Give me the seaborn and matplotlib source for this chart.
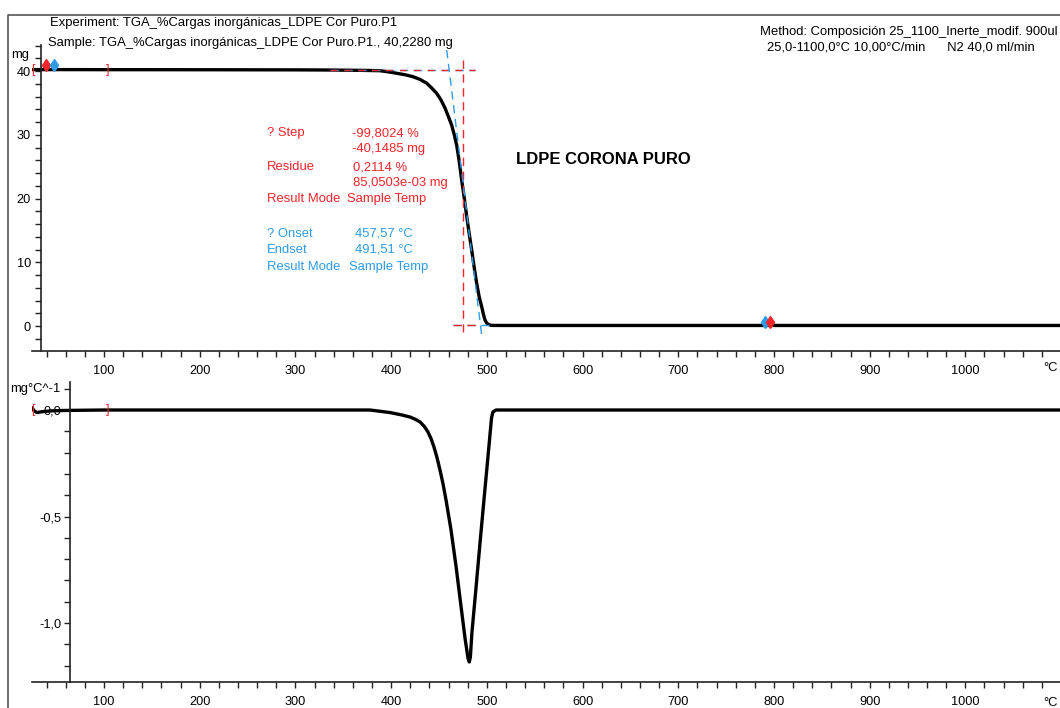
"""
TGA / DTG do LDPE corona puro (recriação do relatório do STARe)
"""

import matplotlib
matplotlib.use("Agg")
import matplotlib.pyplot as plt
import matplotlib.ticker as mticker
from matplotlib.lines import Line2D
import seaborn as sns

# Curva TGA (massa, mg)
tga_temp = [25, 60, 100, 200, 300, 330, 370, 388, 398, 406, 415, 423, 430, 437,
            442, 447.6, 452, 456.3, 460, 463.3, 466, 468.6, 471.3, 473.8, 476.5,
            479.0, 481.6, 484.2, 486.8, 489.4, 492, 494.7, 496.5, 498.1, 500,
            501.6, 504, 507, 520, 600, 700, 800, 900, 1000, 1099]
tga_mg = [40.22, 40.22, 40.21, 40.2, 40.18, 40.16, 40.1, 40.05, 39.85, 39.64,
          39.4, 39.1, 38.7, 38.1, 37.4, 36.5, 35.5, 34.2, 32.8, 31.5, 30.0, 28.3,
          25.7, 22.8, 20.0, 17.2, 14.5, 11.9, 9.2, 6.7, 4.6, 3.0, 1.8, 0.95, 0.45,
          0.25, 0.12, 0.09, 0.085, 0.085, 0.085, 0.085, 0.085, 0.085, 0.085]

# Curva DTG (mg/°C)
dtg_temp = [25, 27, 30, 35, 45, 60, 100, 200, 300, 377.9, 398.9, 410, 419.8,
            425, 430.2, 434.5, 438.5, 441.8, 444.8, 448, 451.1, 454.3, 457.4,
            462.6, 467.8, 473.0, 477.2, 480.3, 481.7, 482.8, 484.5, 488.7, 492.9,
            497.1, 501.2, 503.3, 504.9, 506.4, 509.6, 550, 700, 900, 1099]
dtg_val = [0.01, -0.004, -0.012, -0.008, -0.004, -0.002, 0.0, 0.0, 0.0, 0.0,
           -0.012, -0.022, -0.033, -0.043, -0.056, -0.076, -0.103, -0.135,
           -0.174, -0.224, -0.282, -0.348, -0.423, -0.563, -0.732, -0.92, -1.07,
           -1.164, -1.183, -1.16, -1.042, -0.836, -0.624, -0.418, -0.22, -0.117,
           -0.038, -0.009, 0.0, 0.0, 0.0, 0.0, 0.0]

# Avaliação (degrau / onset)
step_pct = "-99,8024 %"
step_mg = "-40,1485 mg"
residue_pct = "0,2114 %"
residue_mg = "85,0503e-03 mg"
onset = "457,57 °C"
endset = "491,51 °C"
nivel_inicial = 40.2
nivel_final = 0.085
temp_meio = 475.4
tangente_t = [458.1, 494.9]
tangente_mg = [43.3, -1.73]

x_ticks = [100, 200, 300, 400, 500, 600, 700, 800, 900, 1000]

W, H = 1060, 708
VERMELHO = "#f2262b"
AZUL = "#2f9be6"

sns.set_style("ticks")
plt.rcParams["font.family"] = ["Liberation Sans", "DejaVu Sans"]
plt.rcParams["font.size"] = 9
plt.rcParams["text.color"] = "black"
plt.rcParams["xtick.color"] = "black"
plt.rcParams["ytick.color"] = "black"


def caixa(x0, y0, x1, y1):
    return [x0 / W, 1 - y1 / H, (x1 - x0) / W, (y1 - y0) / H]


def texto(x, y, s, **kw):
    fig.text(x / W, 1 - y / H, s, va="center", ha=kw.pop("ha", "left"), **kw)


fig = plt.figure(figsize=(W / 100, H / 100), dpi=100)

# moldura do relatório
fig.add_artist(Line2D([8 / W, 8 / W, 1], [0, 1 - 15 / H, 1 - 15 / H],
                      color="#555555", lw=1.2))

ax1 = fig.add_axes(caixa(32.2, 45, 1060.1, 351))
ax2 = fig.add_axes(caixa(32.2, 382, 1060.1, 682))

for ax in (ax1, ax2):
    ax.set_facecolor("none")
    ax.set_xlim(25, 1099)
    for lado in ("top", "right"):
        ax.spines[lado].set_visible(False)
    for lado in ("left", "bottom"):
        ax.spines[lado].set_color("#222222")
        ax.spines[lado].set_linewidth(1.2)
    ax.xaxis.set_major_locator(mticker.FixedLocator(x_ticks))
    ax.xaxis.set_minor_locator(mticker.MultipleLocator(20))
    ax.tick_params(which="both", direction="out", length=4, width=1,
                   color="#222222", labelcolor="black", labelsize=9.2)
    ax.tick_params(axis="x", pad=6)
    ax.tick_params(axis="y", pad=2)
    ax.set_xlabel("")
    ax.set_ylabel("")

ax1.spines["left"].set_position(("data", 34.7))
ax2.spines["left"].set_position(("data", 64.5))
ax1.tick_params(axis="y", pad=3.5)

# TGA
sns.lineplot(x=tga_temp, y=tga_mg, ax=ax1, color="black", lw=2.4,
             sort=False, estimator=None)
ax1.set_ylim(-3.92, 44.08)
ax1.yaxis.set_major_locator(mticker.MultipleLocator(10))
ax1.yaxis.set_minor_locator(mticker.MultipleLocator(2))

# linhas de avaliação
ax1.plot([336.5, 487.7], [nivel_inicial, nivel_inicial], color=AZUL, lw=1,
         dashes=(6, 4))
ax1.plot([336.5, 487.7], [nivel_inicial, nivel_inicial], color=VERMELHO, lw=1,
         dashes=(5, 5))
ax1.plot([temp_meio, temp_meio], [41.7, -0.9], color=VERMELHO, lw=1, dashes=(6, 4))
ax1.plot([465, 503], [nivel_final, nivel_final], color=AZUL, lw=1, dashes=(6, 4))
ax1.plot([464.7, 491], [nivel_final, nivel_final], color=VERMELHO, lw=1, dashes=(6, 4))
ax1.plot(tangente_t, tangente_mg, color=AZUL, lw=1, dashes=(6, 4))

# marcadores
ax1.text(26, 40.2, "[", color=VERMELHO, ha="center", va="center", fontsize=9)
ax1.text(104, 40.2, "]", color=VERMELHO, ha="center", va="center", fontsize=9)
ax1.plot([39.4], [40.9], marker="d", ms=6, color=VERMELHO, ls="none")
ax1.plot([48.0], [40.9], marker="d", ms=6, color=AZUL, ls="none")
ax1.plot([790.7], [0.6], marker="d", ms=6, color=AZUL, ls="none")
ax1.plot([795.8], [0.6], marker="d", ms=6, color=VERMELHO, ls="none")

# DTG
sns.lineplot(x=dtg_temp, y=dtg_val, ax=ax2, color="black", lw=2.4,
             sort=False, estimator=None)
ax2.set_ylim(-1.277, 0.1315)
ax2.yaxis.set_major_locator(mticker.FixedLocator([0.0, -0.5, -1.0]))
ax2.yaxis.set_minor_locator(mticker.MultipleLocator(0.1))
ax2.yaxis.set_major_formatter(
    mticker.FuncFormatter(lambda v, p: f"{v:.1f}".replace(".", ",").replace("-0,0", "0,0")))
ax2.text(26, 0.0, "[", color=VERMELHO, ha="center", va="center", fontsize=9)
ax2.text(104, -0.002, "]", color=VERMELHO, ha="center", va="center", fontsize=9)

# textos do relatório
texto(50, 23, "Experiment: TGA_%Cargas inorgánicas_LDPE Cor Puro.P1", fontsize=9.4)
texto(48, 43, "Sample: TGA_%Cargas inorgánicas_LDPE Cor Puro.P1., 40,2280 mg", fontsize=9.4)
texto(760, 32, "Method: Composición 25_1100_Inerte_modif. 900ul", fontsize=9.4)
texto(767, 48, "25,0-1100,0°C 10,00°C/min      N2 40,0 ml/min", fontsize=9.4)
texto(11, 55, "mg", fontsize=9.4)
texto(10, 389, "mg°C^-1", fontsize=9.4)
texto(1058, 368, "°C", fontsize=9.4, ha="right")
texto(1058, 703, "°C", fontsize=9.4, ha="right")

texto(267, 133, "? Step", color=VERMELHO, fontsize=9.4)
texto(352, 133, step_pct, color=VERMELHO, fontsize=9.4)
texto(352, 149, step_mg, color=VERMELHO, fontsize=9.4)
texto(267, 167, "Residue", color=VERMELHO, fontsize=9.4)
texto(353, 167, residue_pct, color=VERMELHO, fontsize=9.4)
texto(353, 183, residue_mg, color=VERMELHO, fontsize=9.4)
texto(267, 199, "Result Mode", color=VERMELHO, fontsize=9.4)
texto(347, 199, "Sample Temp", color=VERMELHO, fontsize=9.4)

texto(267, 234, "? Onset", color=AZUL, fontsize=9.4)
texto(355, 234, onset, color=AZUL, fontsize=9.4)
texto(267, 250, "Endset", color=AZUL, fontsize=9.4)
texto(355, 250, endset, color=AZUL, fontsize=9.4)
texto(267, 267, "Result Mode", color=AZUL, fontsize=9.4)
texto(349, 267, "Sample Temp", color=AZUL, fontsize=9.4)

texto(516, 160, "LDPE CORONA PURO", fontsize=12, fontweight="bold")

fig.savefig("out.png", dpi=100)
